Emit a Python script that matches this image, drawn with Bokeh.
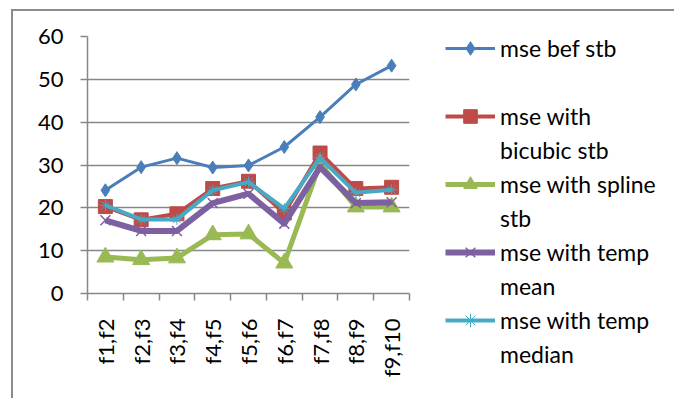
from bokeh.plotting import figure
from bokeh.models import FixedTicker, Legend, LegendItem, Range1d, InlineStyleSheet
from bokeh.embed import file_html
from bokeh.resources import INLINE

categories = ["f1,f2", "f2,f3", "f3,f4", "f4,f5", "f5,f6", "f6,f7", "f7,f8", "f8,f9", "f9,f10"]
mse_bef_stb = [24.1, 29.5, 31.6, 29.4, 29.9, 34.2, 41.2, 48.8, 53.2]
mse_bicubic_stb = [20.3, 17.2, 18.6, 24.5, 26.2, 18.8, 32.8, 24.5, 24.8]
mse_spline_stb = [8.5, 7.9, 8.3, 13.7, 13.9, 7.1, 30.3, 20.2, 20.2]
mse_temp_mean = [17.1, 14.6, 14.6, 21.1, 23.3, 16.3, 29.5, 21.1, 21.3]
mse_temp_median = [20.6, 17.3, 17.3, 24.1, 26.0, 19.8, 31.7, 23.5, 24.2]
y_ticks = [0, 10, 20, 30, 40, 50, 60]
legend_first_lines = ["mse bef stb", "mse with", "mse with spline", "mse with temp", "mse with temp"]
legend_second_lines = ["\u00a0", "bicubic stb", "stb", "mean", "median"]

FONT = "Lato"
FS = "22px"
LFS = "23px"
GRAY = "#878787"

xs = [i + 0.5 for i in range(len(categories))]

p = figure(width=674, height=398, frame_width=322, frame_height=257,
           output_backend="svg", toolbar_location=None,
           x_range=Range1d(0, len(categories)), y_range=Range1d(0, 60),
           min_border_left=87, min_border_right=265, min_border_top=36, min_border_bottom=105)
p.outline_line_color = None
p.background_fill_color = "white"
p.border_fill_color = "white"

# axes
p.xaxis.ticker = FixedTicker(ticks=xs, minor_ticks=list(range(len(categories) + 1)))
p.xaxis.major_label_overrides = {x: c for x, c in zip(xs, categories)}
p.xaxis.major_label_orientation = 1.5707963
p.xaxis.major_tick_out = 0
p.xaxis.major_tick_in = 0
p.xaxis.minor_tick_out = 7
p.xaxis.minor_tick_in = 0
p.xaxis.minor_tick_line_color = GRAY
p.xaxis.minor_tick_line_width = 1.5
p.xaxis.axis_line_color = GRAY
p.xaxis.axis_line_width = 1.5
p.xaxis.major_label_standoff = 18
p.xaxis.major_label_text_font = FONT
p.xaxis.major_label_text_font_size = FS
p.xaxis.major_label_text_color = "black"

p.yaxis.ticker = FixedTicker(ticks=y_ticks, minor_ticks=[])
p.yaxis.major_tick_out = 7
p.yaxis.major_tick_in = 0
p.yaxis.major_tick_line_color = GRAY
p.yaxis.major_tick_line_width = 1.5
p.yaxis.axis_line_color = GRAY
p.yaxis.axis_line_width = 1.5
p.yaxis.major_label_standoff = 17
p.yaxis.major_label_text_font = FONT
p.yaxis.major_label_text_font_size = FS
p.yaxis.major_label_text_color = "black"

p.xgrid.grid_line_color = None
p.ygrid.ticker = FixedTicker(ticks=y_ticks)
p.ygrid.grid_line_color = GRAY
p.ygrid.grid_line_width = 1.5

series = [
    (mse_bef_stb, "#4A7EBB", 3, "diamond", 13, 1),
    (mse_bicubic_stb, "#BE4B48", 4, "square", 14, 1),
    (mse_spline_stb, "#98B954", 5, "triangle", 17, 1),
    (mse_temp_mean, "#7D60A0", 6, "x", 14, 1.5),
    (mse_temp_median, "#46AAC5", 4, "asterisk", 11, 1),
]

# invisible renderer used only to carry the second line of each legend label
blank = p.line(x=[], y=[], line_alpha=0)

items = []
for l1, l2, (ys, color, lw, marker, size, mlw) in zip(legend_first_lines, legend_second_lines, series):
    r1 = p.line(xs, ys, line_color=color, line_width=lw, line_join="round")
    r2 = p.scatter(xs, ys, marker=marker, size=size, fill_color=color, line_color=color, line_width=mlw)
    items.append(LegendItem(label=l1, renderers=[r1, r2]))
    items.append(LegendItem(label=l2, renderers=[blank]))

legend = Legend(items=items, location=(36, -78), glyph_width=50, glyph_height=34,
                label_height=34, label_standoff=5, spacing=0, padding=0, margin=0,
                border_line_color=None, background_fill_alpha=0,
                label_text_font=FONT, label_text_font_size=LFS, label_text_color="black",
                label_text_baseline="middle")
p.add_layout(legend, "right")

p.stylesheets = [InlineStyleSheet(css="""
:host { position: relative; }
:host::after { content: ""; position: absolute; left: 11px; top: 9px; right: -20px; bottom: -20px;
  border-left: 2px solid #8C8C8C; border-top: 2px solid #8C8C8C; pointer-events: none; }
""")]

open("out.html", "w").write(file_html(p, INLINE))
